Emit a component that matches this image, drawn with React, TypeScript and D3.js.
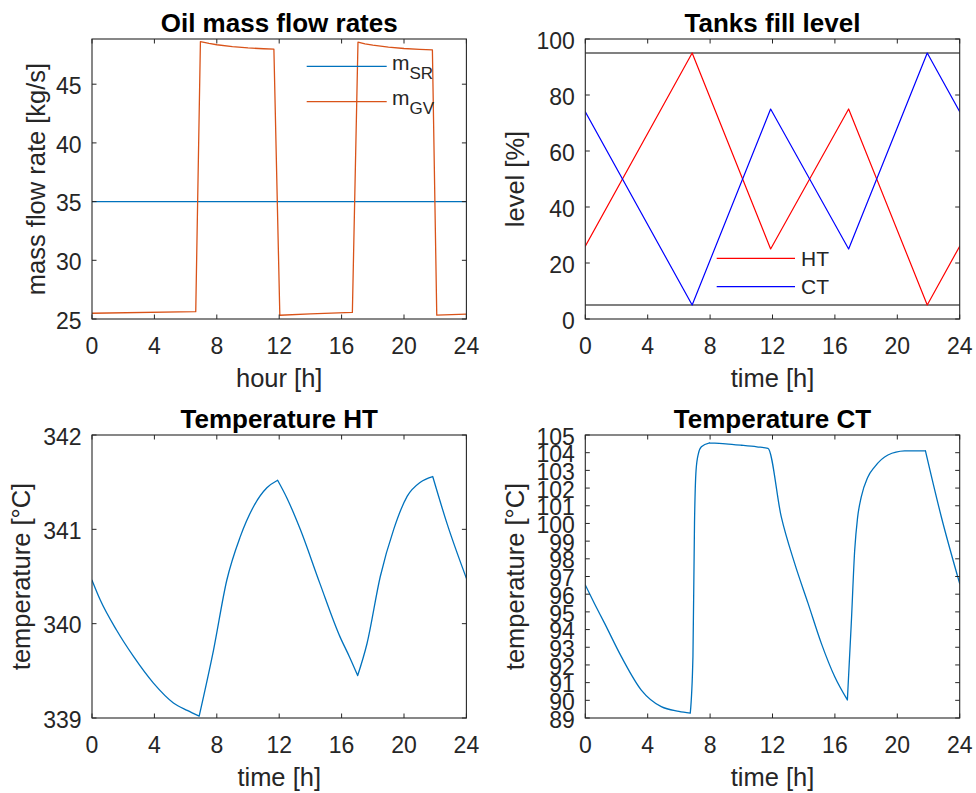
import React from 'react';
import * as d3 from 'd3';

// ---------- data ----------
const hourTicks = [0, 4, 8, 12, 16, 20, 24];
const flowTicks = [25, 30, 35, 40, 45];
const levelTicks = [0, 20, 40, 60, 80, 100];
const tempHtTicks = [339, 340, 341, 342];
const tempCtTicks = [89, 90, 91, 92, 93, 94, 95, 96, 97, 98, 99, 100, 101, 102, 103, 104, 105];

const mSrTime = [0, 24];
const mSrValue = [35, 35];

const mGvTime = [0, 6.65, 6.95, 7.5, 8, 9, 10, 11, 11.66, 12.04, 14, 16.69, 17.05, 17.5, 18, 19, 20, 21, 21.82, 22.1, 24];
const mGvValue = [25.49, 25.62, 48.63, 48.48, 48.36, 48.2, 48.09, 48.02, 47.98, 25.32, 25.44, 25.56, 48.58, 48.44, 48.32, 48.15, 48.04, 47.97, 47.93, 25.33, 25.42];

const levelTime = [0, 6.85, 11.88, 16.88, 21.92, 24];
const htLevel = [26, 95, 25, 75, 5, 26];
const ctLevel = [74, 5, 75, 25, 95, 74];
const levelLimitTime = [0, 24];
const levelMax = [95, 95];
const levelMin = [5, 5];

const tHtTime = [0, 0.53, 1.58, 2.67, 3.94, 5.22, 6.1, 6.87, 7.79, 8.64, 9.5, 10.35, 11.21, 11.9, 12.5, 13.35, 14.6, 15.9, 16.5, 17.03, 17.63, 18.48, 19.34, 20.2, 21.05, 21.84, 22.76, 24];
const tHtValue = [340.46, 340.25, 339.93, 339.65, 339.37, 339.16, 339.08, 339.02, 339.72, 340.46, 340.92, 341.24, 341.44, 341.52, 341.33, 341.0, 340.43, 339.86, 339.65, 339.45, 339.79, 340.5, 341.0, 341.35, 341.5, 341.56, 341.06, 340.48];

const tCtTime = [0, 0.6, 1.24, 2.31, 3.59, 4.87, 6.0, 6.73, 6.9, 7.0, 7.1, 7.25, 7.44, 7.97, 9, 10, 11, 11.71, 12.56, 13.42, 14.28, 15.13, 15.99, 16.8, 17.05, 17.27, 17.45, 17.69, 18.1, 18.55, 19.4, 20.47, 21.8, 22.82, 24];
const tCtValue = [96.52, 95.45, 94.35, 92.47, 90.58, 89.64, 89.38, 89.28, 92.47, 100.0, 103.0, 103.95, 104.34, 104.56, 104.5, 104.42, 104.33, 104.25, 100.38, 97.74, 95.48, 93.22, 91.33, 90.02, 94.35, 98.5, 100.3, 101.5, 102.6, 103.2, 103.87, 104.1, 104.12, 100.38, 96.6];

// ---------- styling ----------
const FONT = '"Liberation Sans", Arial, Helvetica, sans-serif';
const AXIS_COLOR = '#262626';
const BLUE = '#0072BD';
const ORANGE = '#D95319';

type Series = { x: number[]; y: number[]; color: string; width: number; smooth?: boolean };

// split a series into monotonic runs (sharing their endpoints)
function monotoneRuns(xs: number[], ys: number[]): number[][] {
  const runs: number[][] = [];
  let cur: number[] = [0];
  let dir = 0;
  for (let i = 1; i < xs.length; i++) {
    const d = Math.sign(ys[i] - ys[i - 1]);
    if (dir !== 0 && d !== 0 && d !== dir) {
      runs.push(cur);
      cur = [i - 1];
    }
    if (d !== 0) dir = d;
    cur.push(i);
  }
  runs.push(cur);
  return runs;
}

type PanelProps = {
  id: string;
  left: number;
  top: number;
  width: number;
  height: number;
  yDomain: [number, number];
  yTicks: number[];
  title: string;
  xLabel: string;
  yLabel: string;
  yLabelOffset: number;
  series: Series[];
  children?: React.ReactNode;
};

function Panel(p: PanelProps) {
  const x = d3.scaleLinear().domain([0, 24]).range([p.left, p.left + p.width]);
  const y = d3.scaleLinear().domain(p.yDomain).range([p.top + p.height, p.top]);
  const bottom = p.top + p.height;
  const right = p.left + p.width;
  const tl = 4.5;
  const paths = (s: Series): string[] => {
    if (!s.smooth) {
      return [d3.line<number>().x((i) => x(s.x[i])).y((i) => y(s.y[i]))(s.x.map((_, i) => i)) || ''];
    }
    return monotoneRuns(s.x, s.y).map(
      (run) =>
        d3
          .line<number>()
          .x((i) => x(s.x[i]))
          .y((i) => y(s.y[i]))
          .curve(d3.curveMonotoneX)(run) || ''
    );
  };
  const cx = p.left + p.width / 2;
  const cy = p.top + p.height / 2;
  return (
    <g>
      <defs>
        <clipPath id={p.id}>
          <rect x={p.left} y={p.top - 1} width={p.width} height={p.height + 2} />
        </clipPath>
      </defs>
      <g clipPath={`url(#${p.id})`}>
        {p.series.map((s, i) => (
          <path
            key={i}
            d={paths(s).join(' ')}
            fill="none"
            stroke={s.color}
            strokeWidth={s.width}
            strokeLinejoin="round"
            strokeLinecap="round"
          />
        ))}
      </g>
      {hourTicks.map((t) => (
        <g key={'xt' + t}>
          <line x1={x(t)} x2={x(t)} y1={bottom} y2={bottom - tl} stroke={AXIS_COLOR} strokeWidth={1} />
          <line x1={x(t)} x2={x(t)} y1={p.top} y2={p.top + tl} stroke={AXIS_COLOR} strokeWidth={1} />
          <text x={x(t)} y={bottom + 35} textAnchor="middle" fontSize={23} fill={AXIS_COLOR} fontFamily={FONT}>
            {t}
          </text>
        </g>
      ))}
      {p.yTicks.map((t) => (
        <g key={'yt' + t}>
          <line x1={p.left} x2={p.left + tl} y1={y(t)} y2={y(t)} stroke={AXIS_COLOR} strokeWidth={1} />
          <line x1={right} x2={right - tl} y1={y(t)} y2={y(t)} stroke={AXIS_COLOR} strokeWidth={1} />
          <text x={p.left - 10.5} y={y(t)} dy="0.42em" textAnchor="end" fontSize={23} fill={AXIS_COLOR} fontFamily={FONT}>
            {t}
          </text>
        </g>
      ))}
      <rect x={p.left} y={p.top} width={p.width} height={p.height} fill="none" stroke={AXIS_COLOR} strokeWidth={1.1} />
      {p.children}
      <text x={cx} y={p.top - 7} textAnchor="middle" fontSize={26} fontWeight="bold" fill="#000" fontFamily={FONT}>
        {p.title}
      </text>
      <text x={cx} y={bottom + 67.5} textAnchor="middle" fontSize={25.5} fill={AXIS_COLOR} fontFamily={FONT}>
        {p.xLabel}
      </text>
      <text
        transform={`translate(${p.left - p.yLabelOffset},${cy}) rotate(-90)`}
        textAnchor="middle"
        fontSize={25.5}
        fill={AXIS_COLOR}
        fontFamily={FONT}
      >
        {p.yLabel}
      </text>
    </g>
  );
}

function LegendEntry({ x1, x2, y, color, children }: { x1: number; x2: number; y: number; color: string; children: React.ReactNode }) {
  return (
    <g>
      <line x1={x1} x2={x2} y1={y} y2={y} stroke={color} strokeWidth={1.3} />
      {children}
    </g>
  );
}

export default function App() {
  const W = 976;
  const H = 793;
  const leftX = 92;
  const rightX = 585.3;
  const pw = 374.4;
  const topY = 39;
  const topH = 280;
  const botY = 435;
  const botH = 283;
  return (
    <svg
      width={W}
      height={H}
      viewBox={`0 0 ${W} ${H}`}
      style={{ position: 'absolute', left: 0, top: 0, display: 'block', background: '#fff' }}
    >
      <rect x={0} y={0} width={W} height={H} fill="#fff" />
      <Panel
        id="c1"
        left={leftX}
        top={topY}
        width={pw}
        height={topH}
        yDomain={[25, 48.85]}
        yTicks={flowTicks}
        title="Oil mass flow rates"
        xLabel="hour [h]"
        yLabel="mass flow rate [kg/s]"
        yLabelOffset={47.5}
        series={[
          { x: mSrTime, y: mSrValue, color: BLUE, width: 1.3 },
          { x: mGvTime, y: mGvValue, color: ORANGE, width: 1.3 },
        ]}
      >
        <LegendEntry x1={306.7} x2={386.7} y={66.3} color={BLUE}>
          <text x={392} y={70} fontSize={21} fill={AXIS_COLOR} fontFamily={FONT}>
            m<tspan fontSize={17} dy={9}>SR</tspan>
          </text>
        </LegendEntry>
        <LegendEntry x1={306.7} x2={386.7} y={101.7} color={ORANGE}>
          <text x={392} y={105.4} fontSize={21} fill={AXIS_COLOR} fontFamily={FONT}>
            m<tspan fontSize={17} dy={9}>GV</tspan>
          </text>
        </LegendEntry>
      </Panel>
      <Panel
        id="c2"
        left={rightX}
        top={topY}
        width={pw}
        height={topH}
        yDomain={[0, 100]}
        yTicks={levelTicks}
        title="Tanks fill level"
        xLabel="time [h]"
        yLabel="level [%]"
        yLabelOffset={61}
        series={[
          { x: levelLimitTime, y: levelMax, color: '#808080', width: 2 },
          { x: levelLimitTime, y: levelMin, color: '#808080', width: 2 },
          { x: levelTime, y: htLevel, color: '#FF0000', width: 1.2 },
          { x: levelTime, y: ctLevel, color: '#0000FF', width: 1.2 },
        ]}
      >
        <LegendEntry x1={716.7} x2={795} y={258.3} color="#FF0000">
          <text x={801} y={265.8} fontSize={21} fill={AXIS_COLOR} fontFamily={FONT}>
            HT
          </text>
        </LegendEntry>
        <LegendEntry x1={716.7} x2={795} y={286.7} color="#0000FF">
          <text x={801} y={294.2} fontSize={21} fill={AXIS_COLOR} fontFamily={FONT}>
            CT
          </text>
        </LegendEntry>
      </Panel>
      <Panel
        id="c3"
        left={leftX}
        top={botY}
        width={pw}
        height={botH}
        yDomain={[339, 342]}
        yTicks={tempHtTicks}
        title="Temperature HT"
        xLabel="time [h]"
        yLabel="temperature [°C]"
        yLabelOffset={62}
        series={[{ x: tHtTime, y: tHtValue, color: BLUE, width: 1.3, smooth: true }]}
      />
      <Panel
        id="c4"
        left={rightX}
        top={botY}
        width={pw}
        height={botH}
        yDomain={[89, 105]}
        yTicks={tempCtTicks}
        title="Temperature CT"
        xLabel="time [h]"
        yLabel="temperature [°C]"
        yLabelOffset={61}
        series={[{ x: tCtTime, y: tCtValue, color: BLUE, width: 1.3, smooth: true }]}
      />
    </svg>
  );
}
